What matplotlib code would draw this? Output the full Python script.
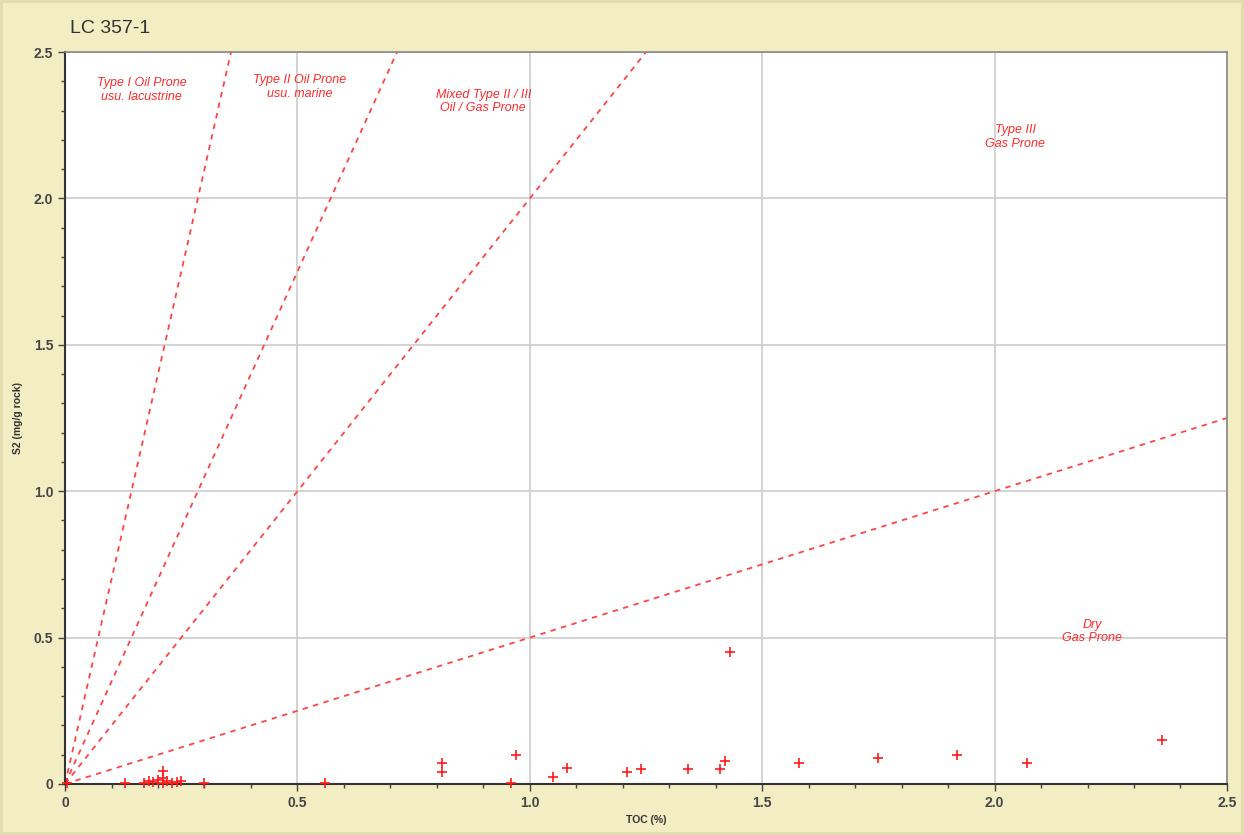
import numpy as np
import matplotlib.pyplot as plt

# TOC vs S2 samples
toc = [0.005, 0.13, 0.17, 0.18, 0.19, 0.20, 0.21, 0.21, 0.21, 0.22, 0.23, 0.24, 0.25, 0.30,
       0.56, 0.81, 0.81, 0.96, 0.97, 1.05, 1.08, 1.21, 1.24, 1.34, 1.41, 1.42, 1.43,
       1.58, 1.75, 1.92, 2.07, 2.36]
s2 = [0.005, 0.003, 0.005, 0.01, 0.008, 0.015, 0.045, 0.02, 0.005, 0.01, 0.005, 0.008, 0.01, 0.005,
      0.002, 0.07, 0.04, 0.003, 0.10, 0.025, 0.055, 0.04, 0.05, 0.05, 0.05, 0.08, 0.45,
      0.07, 0.09, 0.10, 0.07, 0.15]

# kerogen type boundary slopes (S2 / TOC)
slopes = [7, 3.5, 2, 0.5]

zone_labels = ['Type I Oil Prone\nusu. lacustrine', 'Type II Oil Prone\nusu. marine',
               'Mixed Type II / III\nOil / Gas Prone', 'Type III\nGas Prone', 'Dry\nGas Prone']
zone_x = [0.165, 0.505, 0.90, 2.045, 2.21]
zone_y = [2.37, 2.38, 2.33, 2.21, 0.52]

bg = '#f3edc4'
fig = plt.figure(figsize=(12.44, 8.35), dpi=100, facecolor=bg)
fig.patch.set_edgecolor('#e2dcb0')
fig.patch.set_linewidth(3)
ax = fig.add_axes([0.0523, 0.0611, 0.934, 0.8766])
ax.set_facecolor('white')

xs = np.array([0, 2.5])
for m in slopes:
    ax.plot(xs, m * xs, color='#ff4444', lw=1.3, ls=(0, (3, 3)), zorder=2)

ax.scatter(toc, s2, marker='+', s=55, color='#ff1a1a', linewidths=1.2, zorder=3, clip_on=False)

for lab, x, y in zip(zone_labels, zone_x, zone_y):
    ax.text(x, y, lab, color='#ff2a2a', fontsize=9, style='italic', ha='center', va='center',
            family='Liberation Sans', linespacing=1.15, zorder=4)

ax.set_xlim(0, 2.5)
ax.set_ylim(0, 2.5)
ax.set_xticks([0, 0.5, 1.0, 1.5, 2.0, 2.5])
ax.set_xticklabels(['0', '0.5', '1.0', '1.5', '2.0', '2.5'])
ax.set_yticks([0, 0.5, 1.0, 1.5, 2.0, 2.5])
ax.set_yticklabels(['0', '0.5', '1.0', '1.5', '2.0', '2.5'])
ax.set_xticks(np.arange(0, 2.51, 0.1), minor=True)
ax.set_yticks(np.arange(0, 2.51, 0.1), minor=True)
ax.grid(True, which='major', color='#cccccc', lw=1.2, zorder=0)
ax.tick_params(which='major', length=5, width=1, color='#444444', labelsize=10,
               labelcolor='#444444')
ax.tick_params(which='minor', length=3, width=1, color='#444444')
for lbl in ax.get_xticklabels() + ax.get_yticklabels():
    lbl.set_fontweight('bold')
    lbl.set_family('Liberation Sans')

for side in ['left', 'bottom']:
    ax.spines[side].set_color('#333333')
    ax.spines[side].set_linewidth(1.5)
for side in ['top', 'right']:
    ax.spines[side].set_color('#888888')
    ax.spines[side].set_linewidth(1.2)

ax.set_xlabel('TOC (%)', fontsize=7.5, color='#333333', labelpad=4, family='Liberation Sans',
              fontweight='bold')
ax.set_ylabel('S2 (mg/g rock)', fontsize=7.5, color='#333333', labelpad=8, family='Liberation Sans',
              fontweight='bold')

fig.text(0.056, 0.966, 'LC 357-1', fontsize=14, color='#333333', ha='left', va='center',
         family='Liberation Sans')

fig.savefig('out.png', dpi=100, facecolor=bg, edgecolor='#e2dcb0')
